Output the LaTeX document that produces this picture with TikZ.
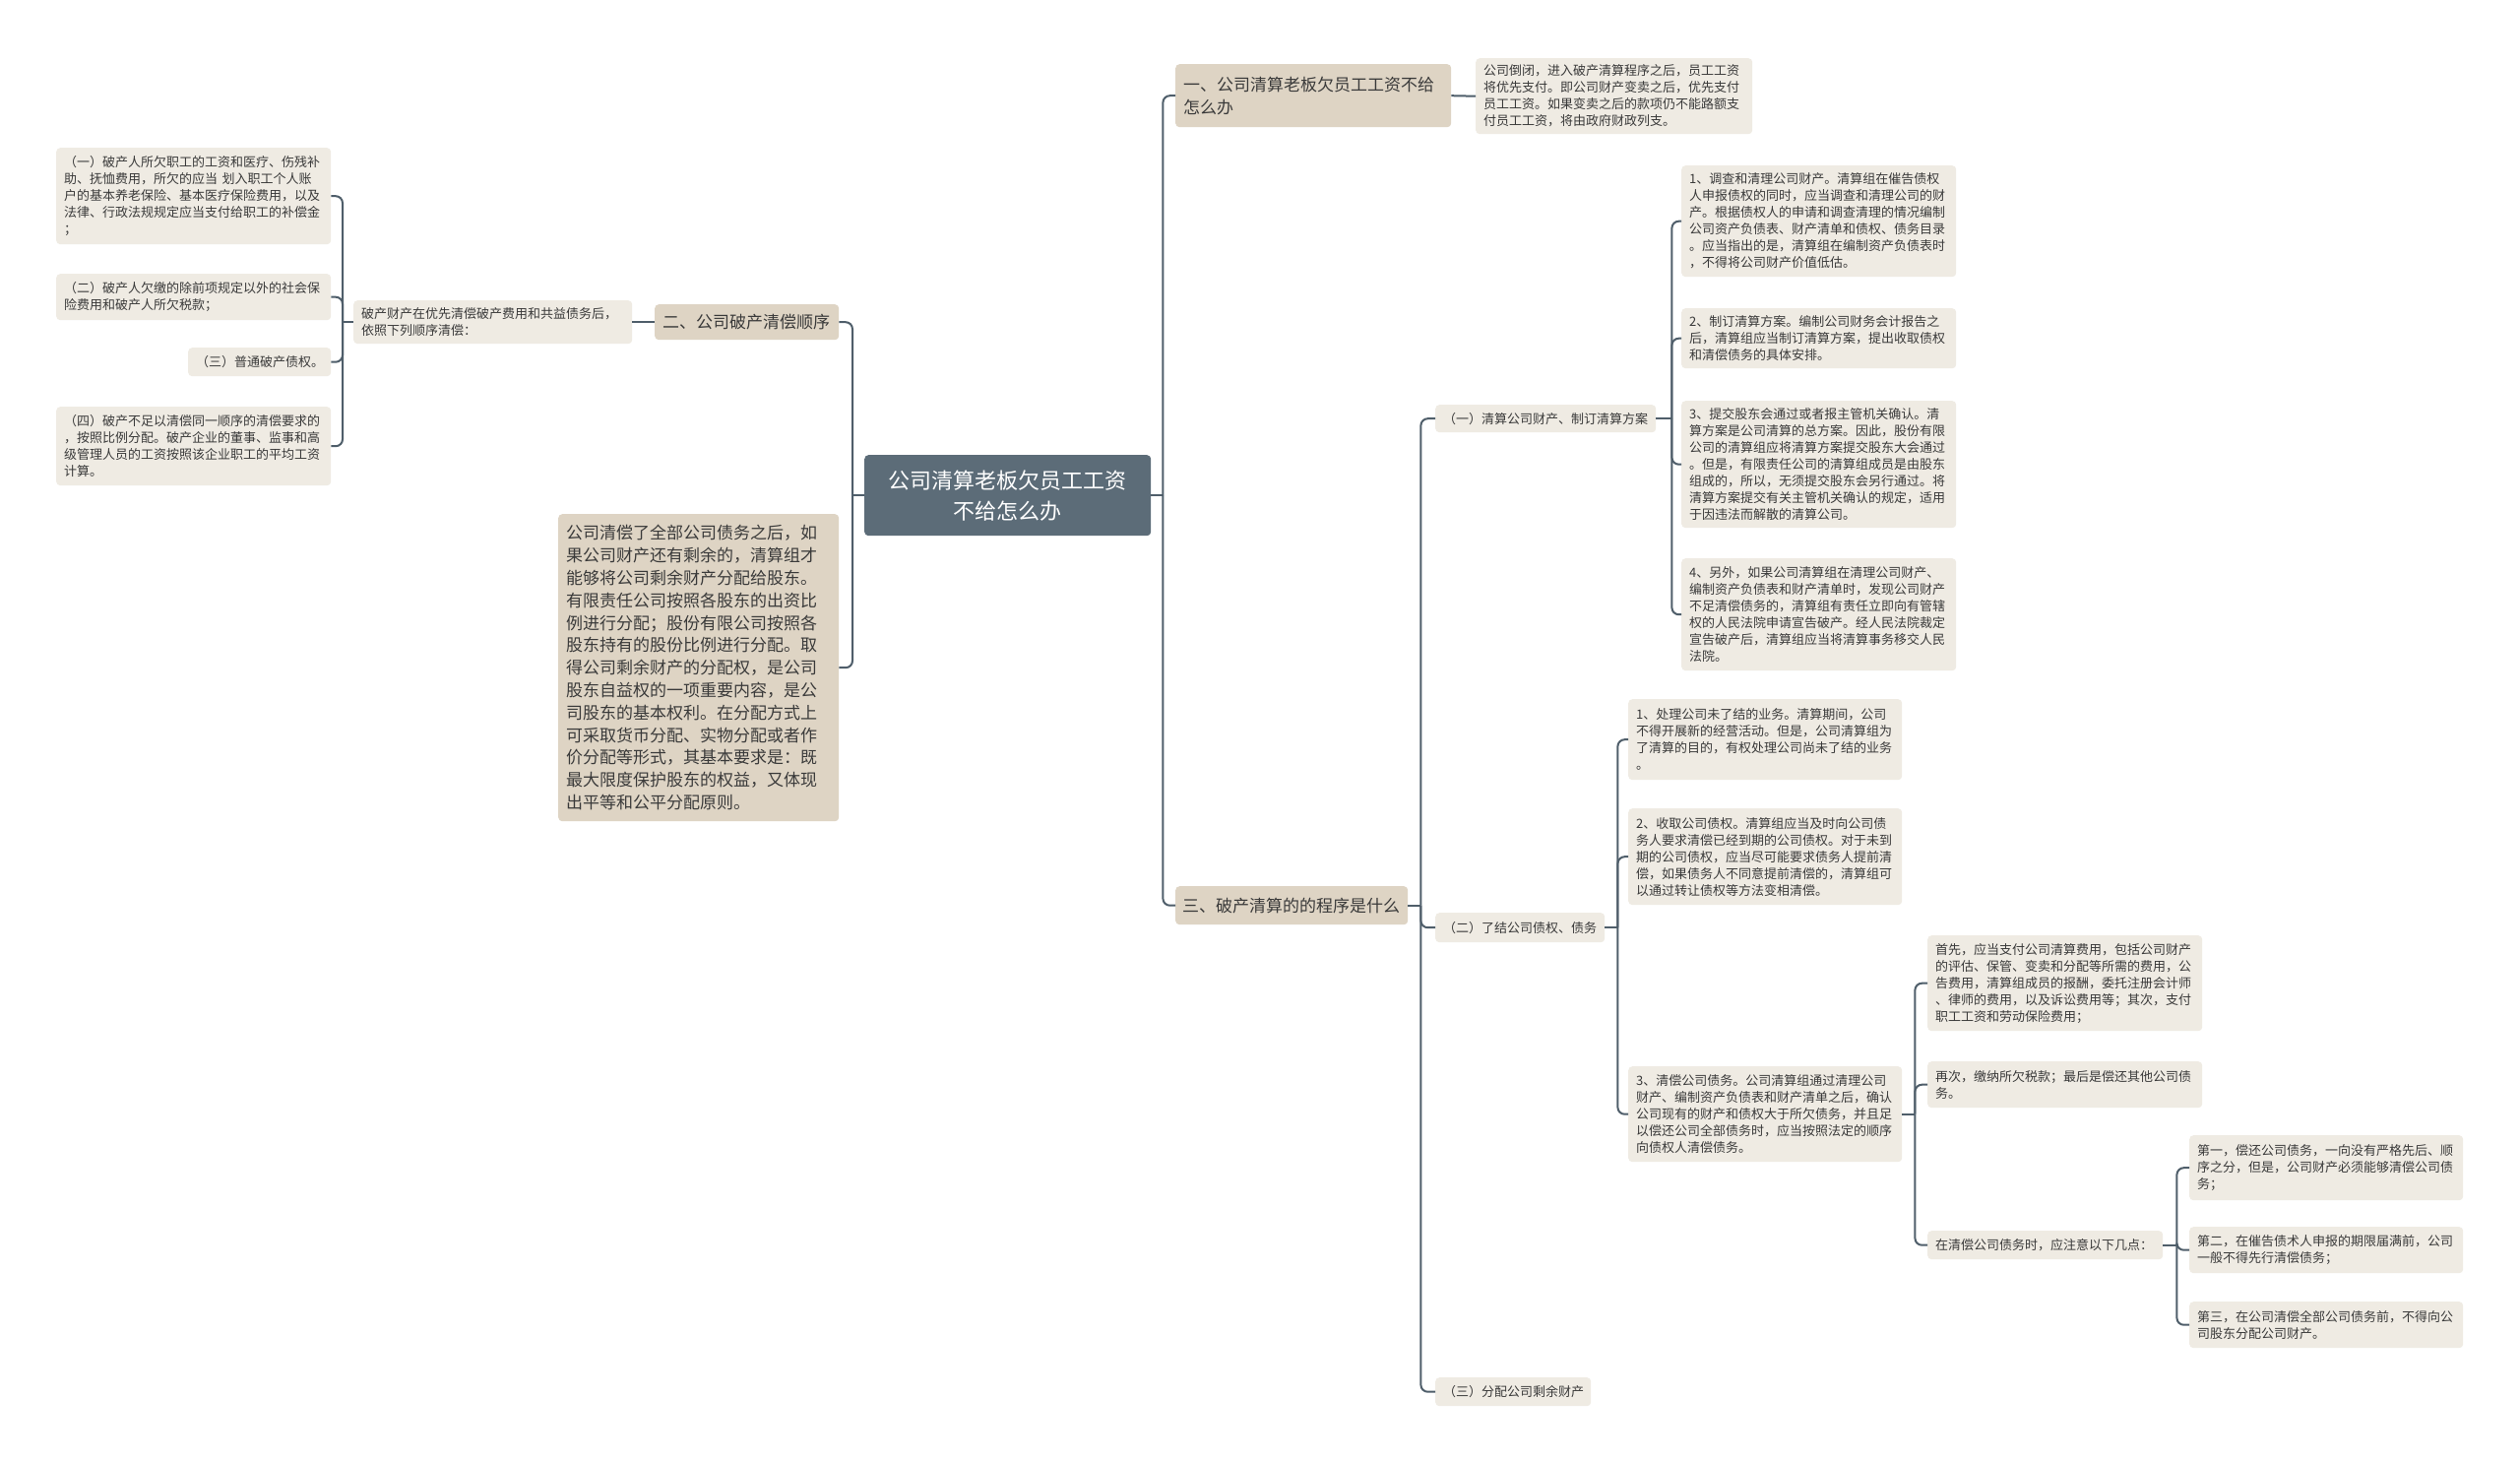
\documentclass[tikz,border=0pt]{standalone}
\usepackage{fontspec}
\newfontfamily\cjk{Noto Sans CJK SC}
\definecolor{txtc}{HTML}{3A3A3A}
\definecolor{leafc}{HTML}{EFEBE3}
\definecolor{tanc}{HTML}{DED4C4}
\definecolor{rootc}{HTML}{5C6C78}
\definecolor{linec}{HTML}{4F5E6A}
\tikzset{
  base/.style={anchor=north west, rounded corners=4pt, inner xsep=8pt, inner ysep=0pt, align=left, text=txtc},
  leaf/.style={base, fill=leafc, font=\cjk\fontsize{13}{17}\selectfont},
  tan/.style={base, fill=tanc, font=\cjk\fontsize{17}{23}\selectfont},
  bigleaf/.style={base, fill=tanc, font=\cjk\fontsize{17}{22.8}\selectfont},
  rootbox/.style={base, fill=rootc, text=white, align=center, font=\cjk\fontsize{22}{31}\selectfont},
  conn/.style={draw=linec, line width=2pt, rounded corners=7pt}
}
\begin{document}
\begin{tikzpicture}[x=1pt,y=-1pt]
\useasboundingbox[fill=white] (0,0) rectangle (2560,1485);

% root
\node[rootbox, text width=275pt, minimum height=82pt] (C) at (878,462) {公司清算老板欠员工工资\\不给怎么办};

% right branch 1
\node[tan, text width=264pt, minimum height=64pt] (B1) at (1194,65) {一、公司清算老板欠员工工资不给\\怎么办};
\node[leaf, text width=265pt, minimum height=77pt] (L1) at (1499,59) {公司倒闭，进入破产清算程序之后，员工工资\\将优先支付。即公司财产变卖之后，优先支付\\员工工资。如果变卖之后的款项仍不能路额支\\付员工工资，将由政府财政列支。};

% right branch 3
\node[tan, text width=222pt, inner xsep=7pt, minimum height=39pt] (B3) at (1194,900) {三、破产清算的的程序是什么};

\node[leaf, text width=208pt, minimum height=28pt] (S1) at (1458,411) {（一）清算公司财产、制订清算方案};
\node[leaf, text width=156pt, minimum height=30pt] (S2) at (1458,927) {（二）了结公司债权、债务};
\node[leaf, text width=142pt, minimum height=29pt] (S3) at (1458,1399) {（三）分配公司剩余财产};

% S1 children
\node[leaf, text width=263pt, minimum height=113pt] (A1) at (1708,168) {1、调查和清理公司财产。清算组在催告债权\\人申报债权的同时，应当调查和清理公司的财\\产。根据债权人的申请和调查清理的情况编制\\公司资产负债表、财产清单和债权、债务目录\\。应当指出的是，清算组在编制资产负债表时\\，不得将公司财产价值低估。};
\node[leaf, text width=263pt, minimum height=61pt] (A2) at (1708,313) {2、制订清算方案。编制公司财务会计报告之\\后，清算组应当制订清算方案，提出收取债权\\和清偿债务的具体安排。};
\node[leaf, text width=263pt, minimum height=129pt] (A3) at (1708,407) {3、提交股东会通过或者报主管机关确认。清\\算方案是公司清算的总方案。因此，股份有限\\公司的清算组应将清算方案提交股东大会通过\\。但是，有限责任公司的清算组成员是由股东\\组成的，所以，无须提交股东会另行通过。将\\清算方案提交有关主管机关确认的规定，适用\\于因违法而解散的清算公司。};
\node[leaf, text width=263pt, minimum height=114pt] (A4) at (1708,567) {4、另外，如果公司清算组在清理公司财产、\\编制资产负债表和财产清单时，发现公司财产\\不足清偿债务的，清算组有责任立即向有管辖\\权的人民法院申请宣告破产。经人民法院裁定\\宣告破产后，清算组应当将清算事务移交人民\\法院。};

% S2 children
\node[leaf, text width=262pt, minimum height=82pt] (P1) at (1654,710) {1、处理公司未了结的业务。清算期间，公司\\不得开展新的经营活动。但是，公司清算组为\\了清算的目的，有权处理公司尚未了结的业务\\。};
\node[leaf, text width=262pt, minimum height=98pt] (P2) at (1654,821) {2、收取公司债权。清算组应当及时向公司债\\务人要求清偿已经到期的公司债权。对于未到\\期的公司债权，应当尽可能要求债务人提前清\\偿，如果债务人不同意提前清偿的，清算组可\\以通过转让债权等方法变相清偿。};
\node[leaf, text width=262pt, minimum height=97pt] (P3) at (1654,1083) {3、清偿公司债务。公司清算组通过清理公司\\财产、编制资产负债表和财产清单之后，确认\\公司现有的财产和债权大于所欠债务，并且足\\以偿还公司全部债务时，应当按照法定的顺序\\向债权人清偿债务。};

% P3 children
\node[leaf, text width=263pt, minimum height=97pt] (Q1) at (1958,950) {首先，应当支付公司清算费用，包括公司财产\\的评估、保管、变卖和分配等所需的费用，公\\告费用，清算组成员的报酬，委托注册会计师\\、律师的费用，以及诉讼费用等；其次，支付\\职工工资和劳动保险费用；};
\node[leaf, text width=263pt, minimum height=47pt] (Q2) at (1958,1078) {再次，缴纳所欠税款；最后是偿还其他公司债\\务。};
\node[leaf, text width=223pt, minimum height=29pt] (Q3) at (1958,1250) {在清偿公司债务时，应注意以下几点：};

% Q3 children
\node[leaf, text width=262pt, minimum height=66pt] (R1) at (2224,1153) {第一，偿还公司债务，一向没有严格先后、顺\\序之分，但是，公司财产必须能够清偿公司债\\务；};
\node[leaf, text width=262pt, minimum height=47pt] (R2) at (2224,1246) {第二，在催告债术人申报的期限届满前，公司\\一般不得先行清偿债务；};
\node[leaf, text width=262pt, minimum height=47pt] (R3) at (2224,1322) {第三，在公司清偿全部公司债务前，不得向公\\司股东分配公司财产。};

% left side
\node[tan, text width=171pt, minimum height=36pt] (B2) at (665,309) {二、公司破产清偿顺序};
\node[bigleaf, text width=269pt, minimum height=312pt] (BL) at (567,522) {公司清偿了全部公司债务之后，如\\果公司财产还有剩余的，清算组才\\能够将公司剩余财产分配给股东。\\有限责任公司按照各股东的出资比\\例进行分配；股份有限公司按照各\\股东持有的股份比例进行分配。取\\得公司剩余财产的分配权，是公司\\股东自益权的一项重要内容，是公\\司股东的基本权利。在分配方式上\\可采取货币分配、实物分配或者作\\价分配等形式，其基本要求是：既\\最大限度保护股东的权益，又体现\\出平等和公平分配原则。};
\node[leaf, text width=267pt, minimum height=44pt] (M) at (359,305) {破产财产在优先清偿破产费用和共益债务后，\\依照下列顺序清偿：};

\node[leaf, text width=263pt, minimum height=98pt] (E1) at (57,150) {（一）破产人所欠职工的工资和医疗、伤残补\\助、抚恤费用，所欠的应当 划入职工个人账\\户的基本养老保险、基本医疗保险费用，以及\\法律、行政法规规定应当支付给职工的补偿金\\；};
\node[leaf, text width=263pt, minimum height=47pt] (E2) at (57,278) {（二）破产人欠缴的除前项规定以外的社会保\\险费用和破产人所欠税款；};
\node[leaf, text width=129pt, minimum height=29pt] (E3) at (191,353) {（三）普通破产债权。};
\node[leaf, text width=263pt, minimum height=80pt] (E4) at (57,413) {（四）破产不足以清偿同一顺序的清偿要求的\\，按照比例分配。破产企业的董事、监事和高\\级管理人员的工资按照该企业职工的平均工资\\计算。};

% junctions
\coordinate (cR) at ([xshift=12pt]C.east);
\coordinate (cL) at ([xshift=-12pt]C.west);
\coordinate (b3R) at ([xshift=13pt]B3.east);
\coordinate (s1R) at ([xshift=16pt]S1.east);
\coordinate (s2R) at ([xshift=13pt]S2.east);
\coordinate (p3R) at ([xshift=13pt]P3.east);
\coordinate (q3R) at ([xshift=14pt]Q3.east);
\coordinate (mL) at ([xshift=-11pt]M.west);

% connectors
\draw[conn] (C.east) -- (cR);
\draw[conn] (cR) |- (B1.west);
\draw[conn] (cR) |- (B3.west);
\draw[conn] (B1.east) -- (L1.west);

\draw[conn] (B3.east) -- (b3R);
\draw[conn] (b3R) |- (S1.west);
\draw[conn] (b3R) |- (S2.west);
\draw[conn] (b3R) |- (S3.west);

\draw[conn] (S1.east) -- (s1R);
\draw[conn] (s1R) |- (A1.west);
\draw[conn] (s1R) |- (A2.west);
\draw[conn] (s1R) |- (A3.west);
\draw[conn] (s1R) |- (A4.west);

\draw[conn] (S2.east) -- (s2R);
\draw[conn] (s2R) |- (P1.west);
\draw[conn] (s2R) |- (P2.west);
\draw[conn] (s2R) |- (P3.west);

\draw[conn] (P3.east) -- (p3R);
\draw[conn] (p3R) |- (Q1.west);
\draw[conn] (p3R) |- (Q2.west);
\draw[conn] (p3R) |- (Q3.west);

\draw[conn] (Q3.east) -- (q3R);
\draw[conn] (q3R) |- (R1.west);
\draw[conn] (q3R) |- (R2.west);
\draw[conn] (q3R) |- (R3.west);

\draw[conn] (C.west) -- (cL);
\draw[conn] (cL) |- (B2.east);
\draw[conn] (cL) |- (BL.east);
\draw[conn] (B2.west) -- (M.east);

\draw[conn] (M.west) -- (mL);
\draw[conn] (mL) |- (E1.east);
\draw[conn] (mL) |- (E2.east);
\draw[conn] (mL) |- (E3.east);
\draw[conn] (mL) |- (E4.east);
\end{tikzpicture}
\end{document}
